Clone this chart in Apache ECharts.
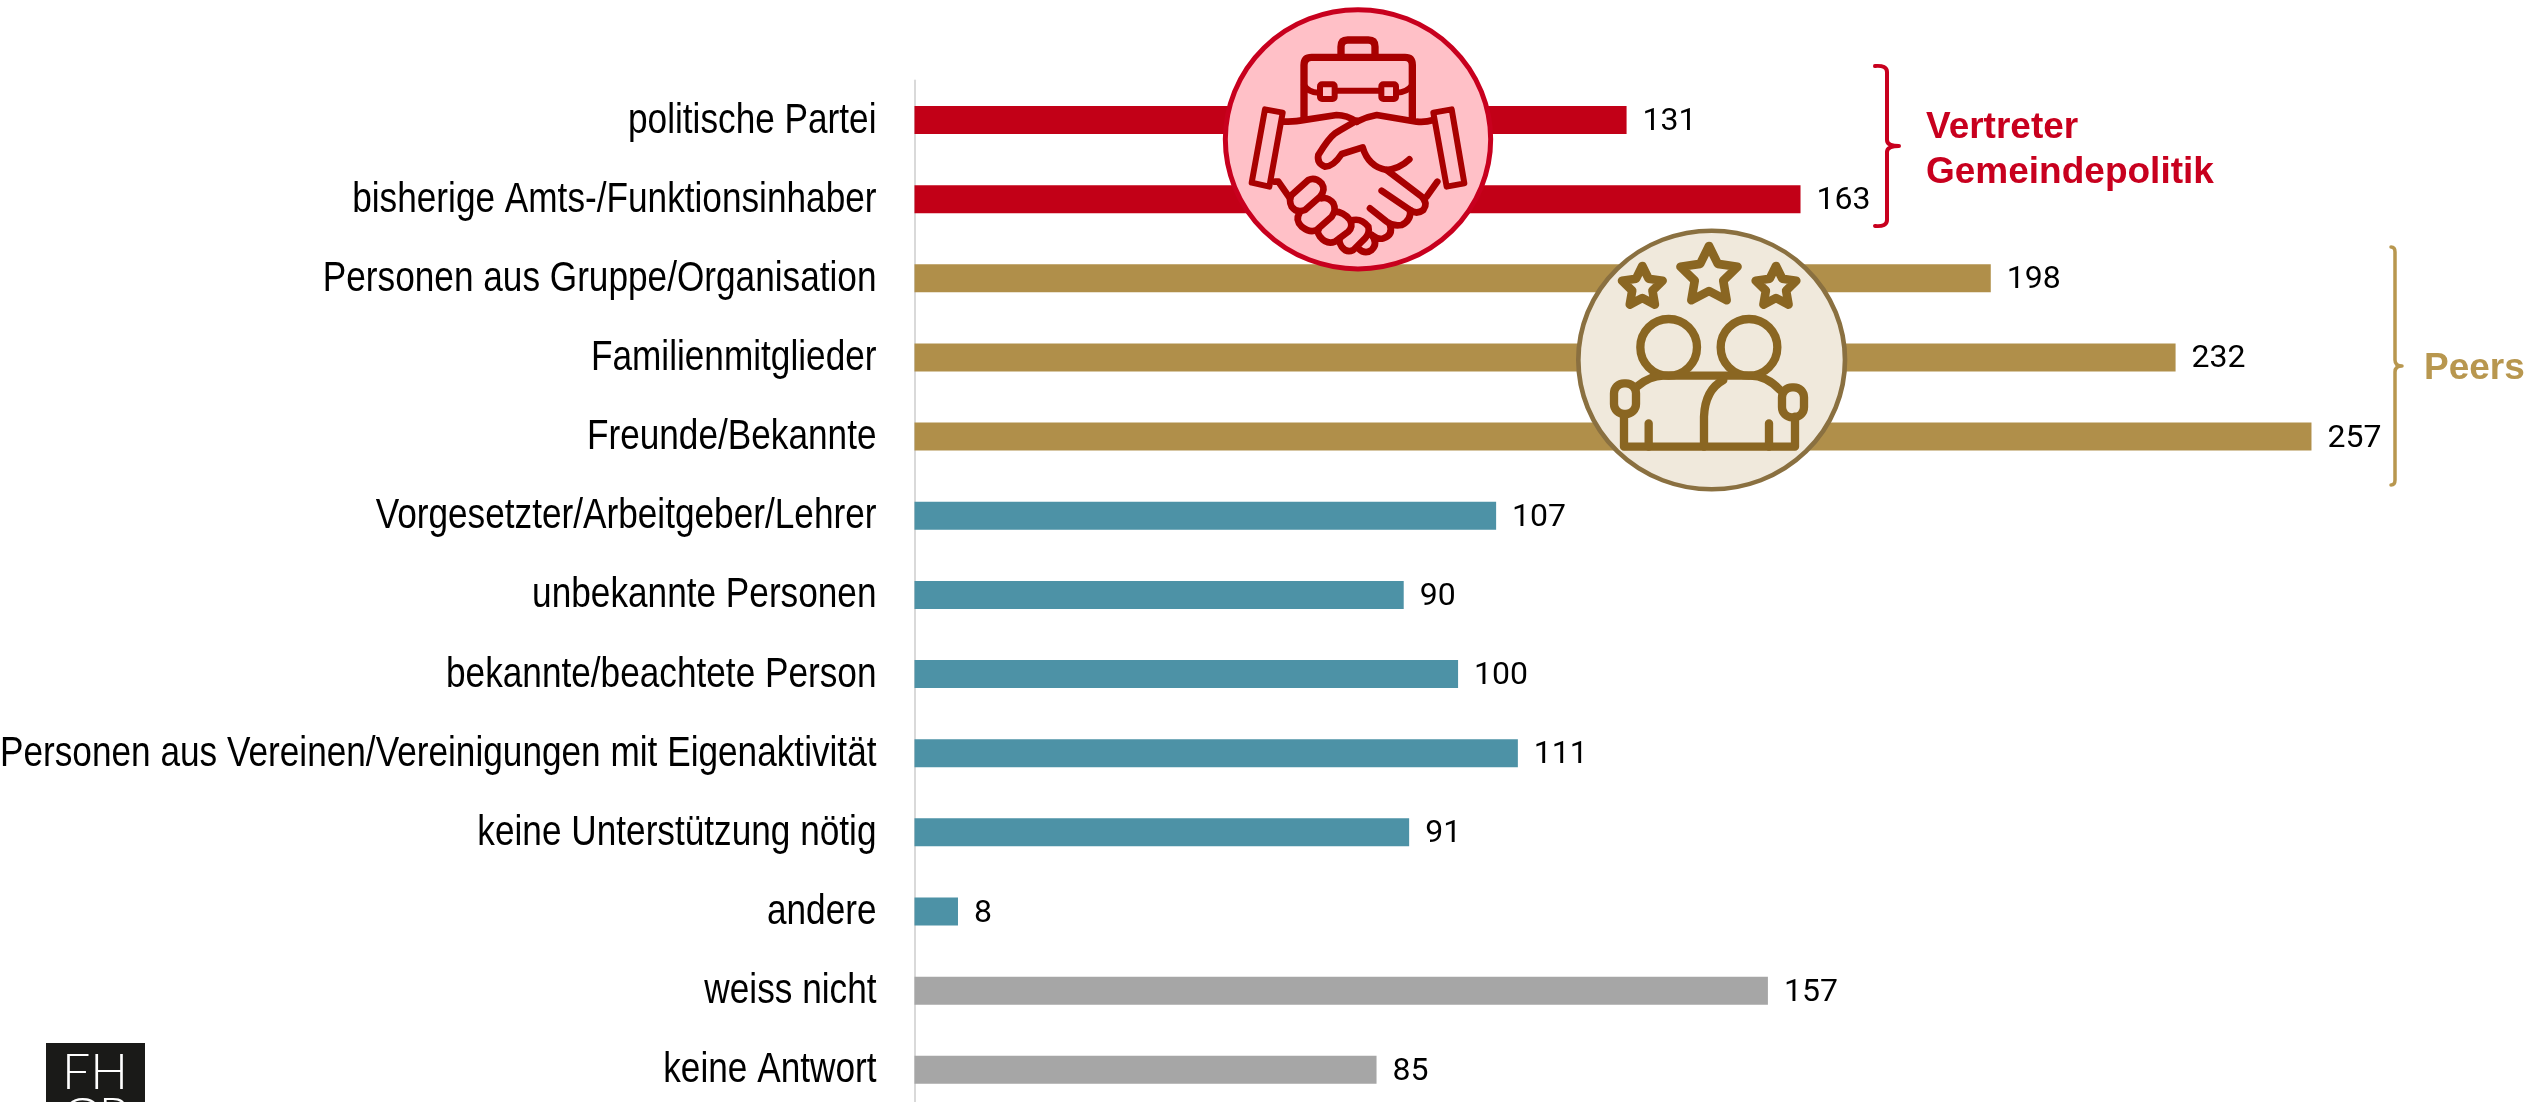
<!DOCTYPE html>
<html>
<head>
<meta charset="utf-8">
<title>Unterstützung</title>
<script src="https://cdn.jsdelivr.net/npm/echarts@6/dist/echarts.min.js"></script>
<style>
  html, body { margin: 0; padding: 0; background: #fff; }
  #chart { width: 2527px; height: 1102px; }
</style>
</head>
<body>
<div id="chart"></div>
<script>
  const categories = [
    'politische Partei',
    'bisherige Amts-/Funktionsinhaber',
    'Personen aus Gruppe/Organisation',
    'Familienmitglieder',
    'Freunde/Bekannte',
    'Vorgesetzter/Arbeitgeber/Lehrer',
    'unbekannte Personen',
    'bekannte/beachtete Person',
    'Personen aus Vereinen/Vereinigungen mit Eigenaktivität',
    'keine Unterstützung nötig',
    'andere',
    'weiss nicht',
    'keine Antwort'
  ]
  const values = [131, 163, 198, 232, 257, 107, 90, 100, 111, 91, 8, 157, 85]
  const barColors = [
    '#c20017', '#c20017',
    '#b08f4a', '#b08f4a', '#b08f4a',
    '#4d92a6', '#4d92a6', '#4d92a6', '#4d92a6', '#4d92a6', '#4d92a6',
    '#a6a6a6', '#a6a6a6'
  ]

  const RED = '#c8001e'
  const GOLD = '#b8974f'
  const ICON_Z = 60

  // graphic组件没有path类型，这里把每条路径注册成一个形状
  let shapeCount = 0
  function line(d, color, w) {
    const name = 'iconPath' + (shapeCount++)
    echarts.graphic.registerShape(name, echarts.graphic.extendPath(d, {}))
    return { type: name, z: ICON_Z, style: { fill: 'none', stroke: color, lineWidth: w, lineJoin: 'round', lineCap: 'round' } }
  }

  function label(text, x, y, color) {
    return {
      type: 'text', z: 50, x: x, y: y,
      style: { text: text, fill: color, font: 'bold 37px "Liberation Sans"', textVerticalAlign: 'bottom' }
    }
  }

  function box(x, y, width, height, r, color, w) {
    return { type: 'rect', z: ICON_Z, shape: { x: x, y: y, width: width, height: height, r: r }, style: { fill: 'none', stroke: color, lineWidth: w } }
  }

  function ring(cx, cy, r, color, w) {
    return { type: 'circle', z: ICON_Z, shape: { cx: cx, cy: cy, r: r }, style: { fill: 'none', stroke: color, lineWidth: w } }
  }

  function star(cx, cy, r) {
    let d = ''
    for (let i = 0; i < 10; i++) {
      const a = -Math.PI / 2 + i * Math.PI / 5
      const rr = i % 2 ? r * 0.5 : r
      d += (i ? 'L' : 'M') + (cx + rr * Math.cos(a)).toFixed(1) + ' ' + (cy + rr * Math.sin(a)).toFixed(1)
    }
    return d + 'Z'
  }

  // 握手图标，坐标为放大三倍后的局部坐标
  const ic1 = '#a80000'
  const handshake = {
    type: 'group', x: 1180, y: 0, scaleX: 1 / 3, scaleY: 1 / 3,
    children: [
      { type: 'circle', z: ICON_Z, x: 534, y: 418, scaleY: 0.977, shape: { cx: 0, cy: 0, r: 398 }, style: { fill: '#ffc0c7', stroke: RED, lineWidth: 15 } },
      line('M483 165V140Q483 120 503 120H565Q585 120 585 140V165', ic1, 22),
      line('M372 355V195Q372 172 395 172H675Q697 172 697 195V355', ic1, 22),
      line('M372 255Q385 278 415 278M650 278Q680 278 697 255M465 272H600', ic1, 18),
      box(420, 253, 44, 44, 6, ic1, 18),
      box(604, 253, 44, 44, 6, ic1, 18),
      line('M255 328L308 338L268 560L215 548Z', ic1, 18),
      line('M760 338L815 328L853 550L800 560Z', ic1, 18),
      line('M310 365Q340 365 360 362L470 345Q500 345 530 365', ic1, 20),
      line('M530 365Q560 350 590 345L710 365Q735 368 760 360', ic1, 20),
      line('M530 362Q490 385 465 400Q445 415 415 465Q410 490 435 500Q460 500 485 462L548 442Q565 500 620 510Q660 505 688 478', ic1, 20),
      line('M620 510L725 590Q745 610 730 630Q710 645 690 630L605 572', ic1, 20),
      line('M690 630Q695 660 665 675Q640 680 620 665L570 625', ic1, 20),
      line('M630 675Q640 705 610 715Q595 720 575 705', ic1, 20),
      line('M285 545H295L330 595', ic1, 20),
      line('M772 545L740 590', ic1, 20),
      line('M335 585L385 540Q405 530 425 550Q438 570 420 590L375 630Q350 640 335 620Q325 600 335 585', ic1, 20),
      line('M425 595Q445 590 460 610Q470 630 455 650L410 690Q390 700 365 680Q345 660 358 640', ic1, 20),
      line('M465 635Q490 635 510 660Q520 680 505 695L465 725Q440 735 420 710Q410 695 415 690', ic1, 20),
      line('M520 660Q545 655 565 680Q570 700 555 715L520 750Q500 760 485 740Q475 725 480 715', ic1, 20),
      line('M575 705Q595 730 575 750Q555 765 535 745', ic1, 20)
    ]
  }

  // 人物图标
  const ic2 = '#8a6622'
  const people = {
    type: 'group', x: 1550, y: 210, scaleX: 1 / 3, scaleY: 1 / 3,
    children: [
      { type: 'circle', z: ICON_Z, x: 485, y: 450, scaleY: 0.97, shape: { cx: 0, cy: 0, r: 400 }, style: { fill: '#f0e9dc', stroke: '#8a7040', lineWidth: 14 } },
      line(star(277, 232, 64), ic2, 26),
      line(star(477, 198, 90), ic2, 26),
      line(star(678, 232, 64), ic2, 26),
      ring(356, 412, 85, ic2, 25),
      ring(597, 412, 85, ic2, 25),
      line('M260 530Q300 497 340 497H600Q650 497 690 540', ic2, 25),
      line('M462 710V620Q465 540 520 510', ic2, 25),
      line('M222 620V710H735V620', ic2, 25),
      line('M296 640V710M657 640V710', ic2, 25),
      box(192, 520, 66, 92, 30, ic2, 25),
      box(696, 532, 66, 90, 30, ic2, 25)
    ]
  }

  // 左下角标志
  const logo = [
    { type: 'rect', z: 50, shape: { x: 46, y: 1043, width: 99, height: 70 }, style: { fill: '#1a1a18' } },
    {
      type: 'text', z: 51, x: 62, y: 1073,
      style: { text: 'FH', fill: '#fff', font: '300 50px Lato', textVerticalAlign: 'middle' }
    },
    {
      type: 'text', z: 51, x: 62, y: 1117,
      style: { text: 'GR', fill: '#fff', font: '300 50px Lato', textVerticalAlign: 'middle' }
    }
  ]

  const option = {
    animation: false,
    backgroundColor: '#fff',
    grid: { left: 914.5, top: 80.4, width: 1522, height: 1029, outerBoundsMode: 'none' },
    xAxis: { type: 'value', min: 0, max: 280, show: false },
    yAxis: {
      type: 'category',
      inverse: true,
      data: categories,
      axisTick: { show: false },
      axisLine: { lineStyle: { color: '#d9d9d9', width: 2 } },
      axisLabel: { show: false }
    },
    series: [
      {
        type: 'bar',
        barWidth: 28,
        data: values.map((v, i) => ({ value: v, itemStyle: { color: barColors[i] } })),
        label: {
          show: true,
          position: 'right',
          distance: 16,
          offset: [0, 2],
          color: '#000',
          fontSize: 32,
          fontFamily: 'Roboto'
        }
      },
      {
        // 类目文字是窄体，没有对应字体，用scaleX压缩
        type: 'custom',
        silent: true,
        clip: false,
        data: categories.map((c, i) => [0, i]),
        renderItem: function (params, api) {
          const p = api.coord([0, api.value(1)])
          return {
            type: 'text',
            x: p[0] - 38,
            y: p[1] + 1,
            scaleX: 0.838,
            style: {
              text: categories[params.dataIndex],
              fill: '#000',
              font: '42px "Liberation Sans"',
              textAlign: 'right',
              textVerticalAlign: 'middle'
            }
          }
        }
      }
    ],
    graphic: [
      Object.assign(line('M1875 66Q1887 65 1887 72V140Q1887 146 1899 146Q1887 146 1887 152V220Q1887 227 1875 226', RED, 4), { z: 50 }),
      Object.assign(line('M2391 247Q2395 247 2395 252V360Q2395 366 2402 366Q2395 366 2395 372V480Q2395 485 2391 485', GOLD, 3.5), { z: 50 }),
      label('Vertreter', 1926, 146, RED),
      label('Gemeindepolitik', 1926, 191, RED),
      label('Peers', 2424, 387, GOLD),
      handshake,
      people
    ].concat(logo)
  }

  const myChart = echarts.init(document.getElementById('chart'))
  myChart.setOption(option)
</script>
</body>
</html>
